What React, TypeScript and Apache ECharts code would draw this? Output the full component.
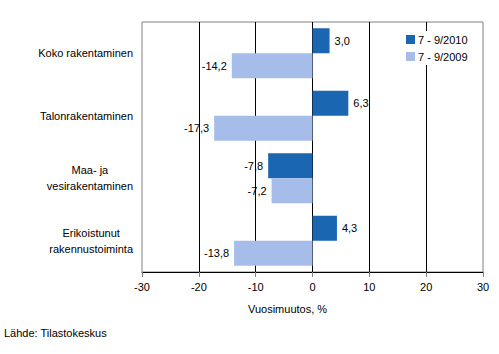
import React, { useEffect, useRef } from "react";
import * as echarts from "echarts";

const categories = [
  "Koko rakentaminen",
  "Talonrakentaminen",
  "Maa- ja\nvesirakentaminen",
  "Erikoistunut\nrakennustoiminta",
];
const series2010 = [3.0, 6.3, -7.8, 4.3];
const series2009 = [-14.2, -17.3, -7.2, -13.8];
const seriesNames = ["7 - 9/2010", "7 - 9/2009"];
const xTicks = { min: -30, max: 30, interval: 10 };

const FONT = "'Liberation Sans', Arial, sans-serif";

export default function App() {
  const ref = useRef<HTMLDivElement>(null);
  useEffect(() => {
    if (!ref.current) return;
    const chart = echarts.init(ref.current, undefined, { renderer: "svg" });
    const fmt = (p: any) => {
      const v = p.value as number;
      return v.toFixed(1).replace(".", ",");
    };
    const mkLabel = () => ({
      show: true,
      position: "right" as any,
      distance: 5,
      color: "#000",
      fontSize: 11,
      fontFamily: FONT,
      formatter: fmt,
    });
    chart.setOption({
      animation: false,
      textStyle: { fontFamily: FONT },
      grid: {
        left: 142,
        top: 22,
        width: 341,
        height: 250,
        show: true,
        borderColor: "#808080",
        borderWidth: 1,
        backgroundColor: "transparent",
      },
      legend: {
        orient: "vertical",
        left: 402,
        top: 31,
        itemWidth: 9,
        itemHeight: 9,
        itemGap: 6,
        padding: [3, 6, 3, 4],
        backgroundColor: "#fff",
        icon: "rect",
        textStyle: { fontSize: 11, fontFamily: FONT, color: "#000", padding: [0, 0, 0, -2] },
        data: seriesNames,
      },
      xAxis: {
        type: "value",
        min: xTicks.min,
        max: xTicks.max,
        interval: xTicks.interval,
        axisLine: { show: true, onZero: false, lineStyle: { color: "#000", width: 1 } },
        axisTick: { show: true, length: 5, lineStyle: { color: "#808080" } },
        axisLabel: {
          color: "#000",
          fontSize: 11,
          fontFamily: FONT,
          margin: 9,
          formatter: (v: number) => String(v),
        },
        splitLine: {
          show: true,
          showMinLine: false,
          showMaxLine: false,
          lineStyle: { color: "#000", width: 1 },
        },
      },
      yAxis: {
        type: "category",
        inverse: true,
        data: categories,
        axisLine: { show: false },
        axisTick: { show: false },
        axisLabel: {
          color: "#000",
          fontSize: 11,
          fontFamily: FONT,
          margin: 9,
          align: "right",
          lineHeight: 16,
          formatter: (v: string) =>
            v
              .split("\n")
              .map((l) => `{c|${l}}`)
              .join("\n"),
          rich: {
            c: { align: "center", fontSize: 11, fontFamily: FONT, color: "#000", lineHeight: 16 },
          },
        },
        splitLine: { show: false },
      },
      series: [
        {
          name: seriesNames[0],
          type: "bar",
          data: series2010,
          barWidth: 25,
          barGap: "0%",
          itemStyle: { color: "#1a66b0" },
          label: mkLabel(),
          labelLayout: (p: any) => ({}),
        },
        {
          name: seriesNames[1],
          type: "bar",
          data: series2009,
          barWidth: 25,
          barGap: "0%",
          itemStyle: { color: "#a6bde9" },
          label: mkLabel(),
        },
      ].map((s) => ({
        ...s,
        data: s.data.map((v) => ({
          value: v,
          label: { position: v < 0 ? "left" : "right" },
        })),
      })),
      graphic: [
        {
          type: "text",
          left: 248,
          top: 303,
          style: { text: "Vuosimuutos, %", fontSize: 11, fontFamily: FONT, fill: "#000" },
        },
        {
          type: "text",
          left: 4,
          top: 327,
          style: { text: "Lähde: Tilastokeskus", fontSize: 11, fontFamily: FONT, fill: "#000" },
        },
      ],
    });
    return () => chart.dispose();
  }, []);
  return (
    <div
      ref={ref}
      style={{ position: "absolute", left: 0, top: 0, width: 499, height: 354, background: "#fff" }}
    />
  );
}
